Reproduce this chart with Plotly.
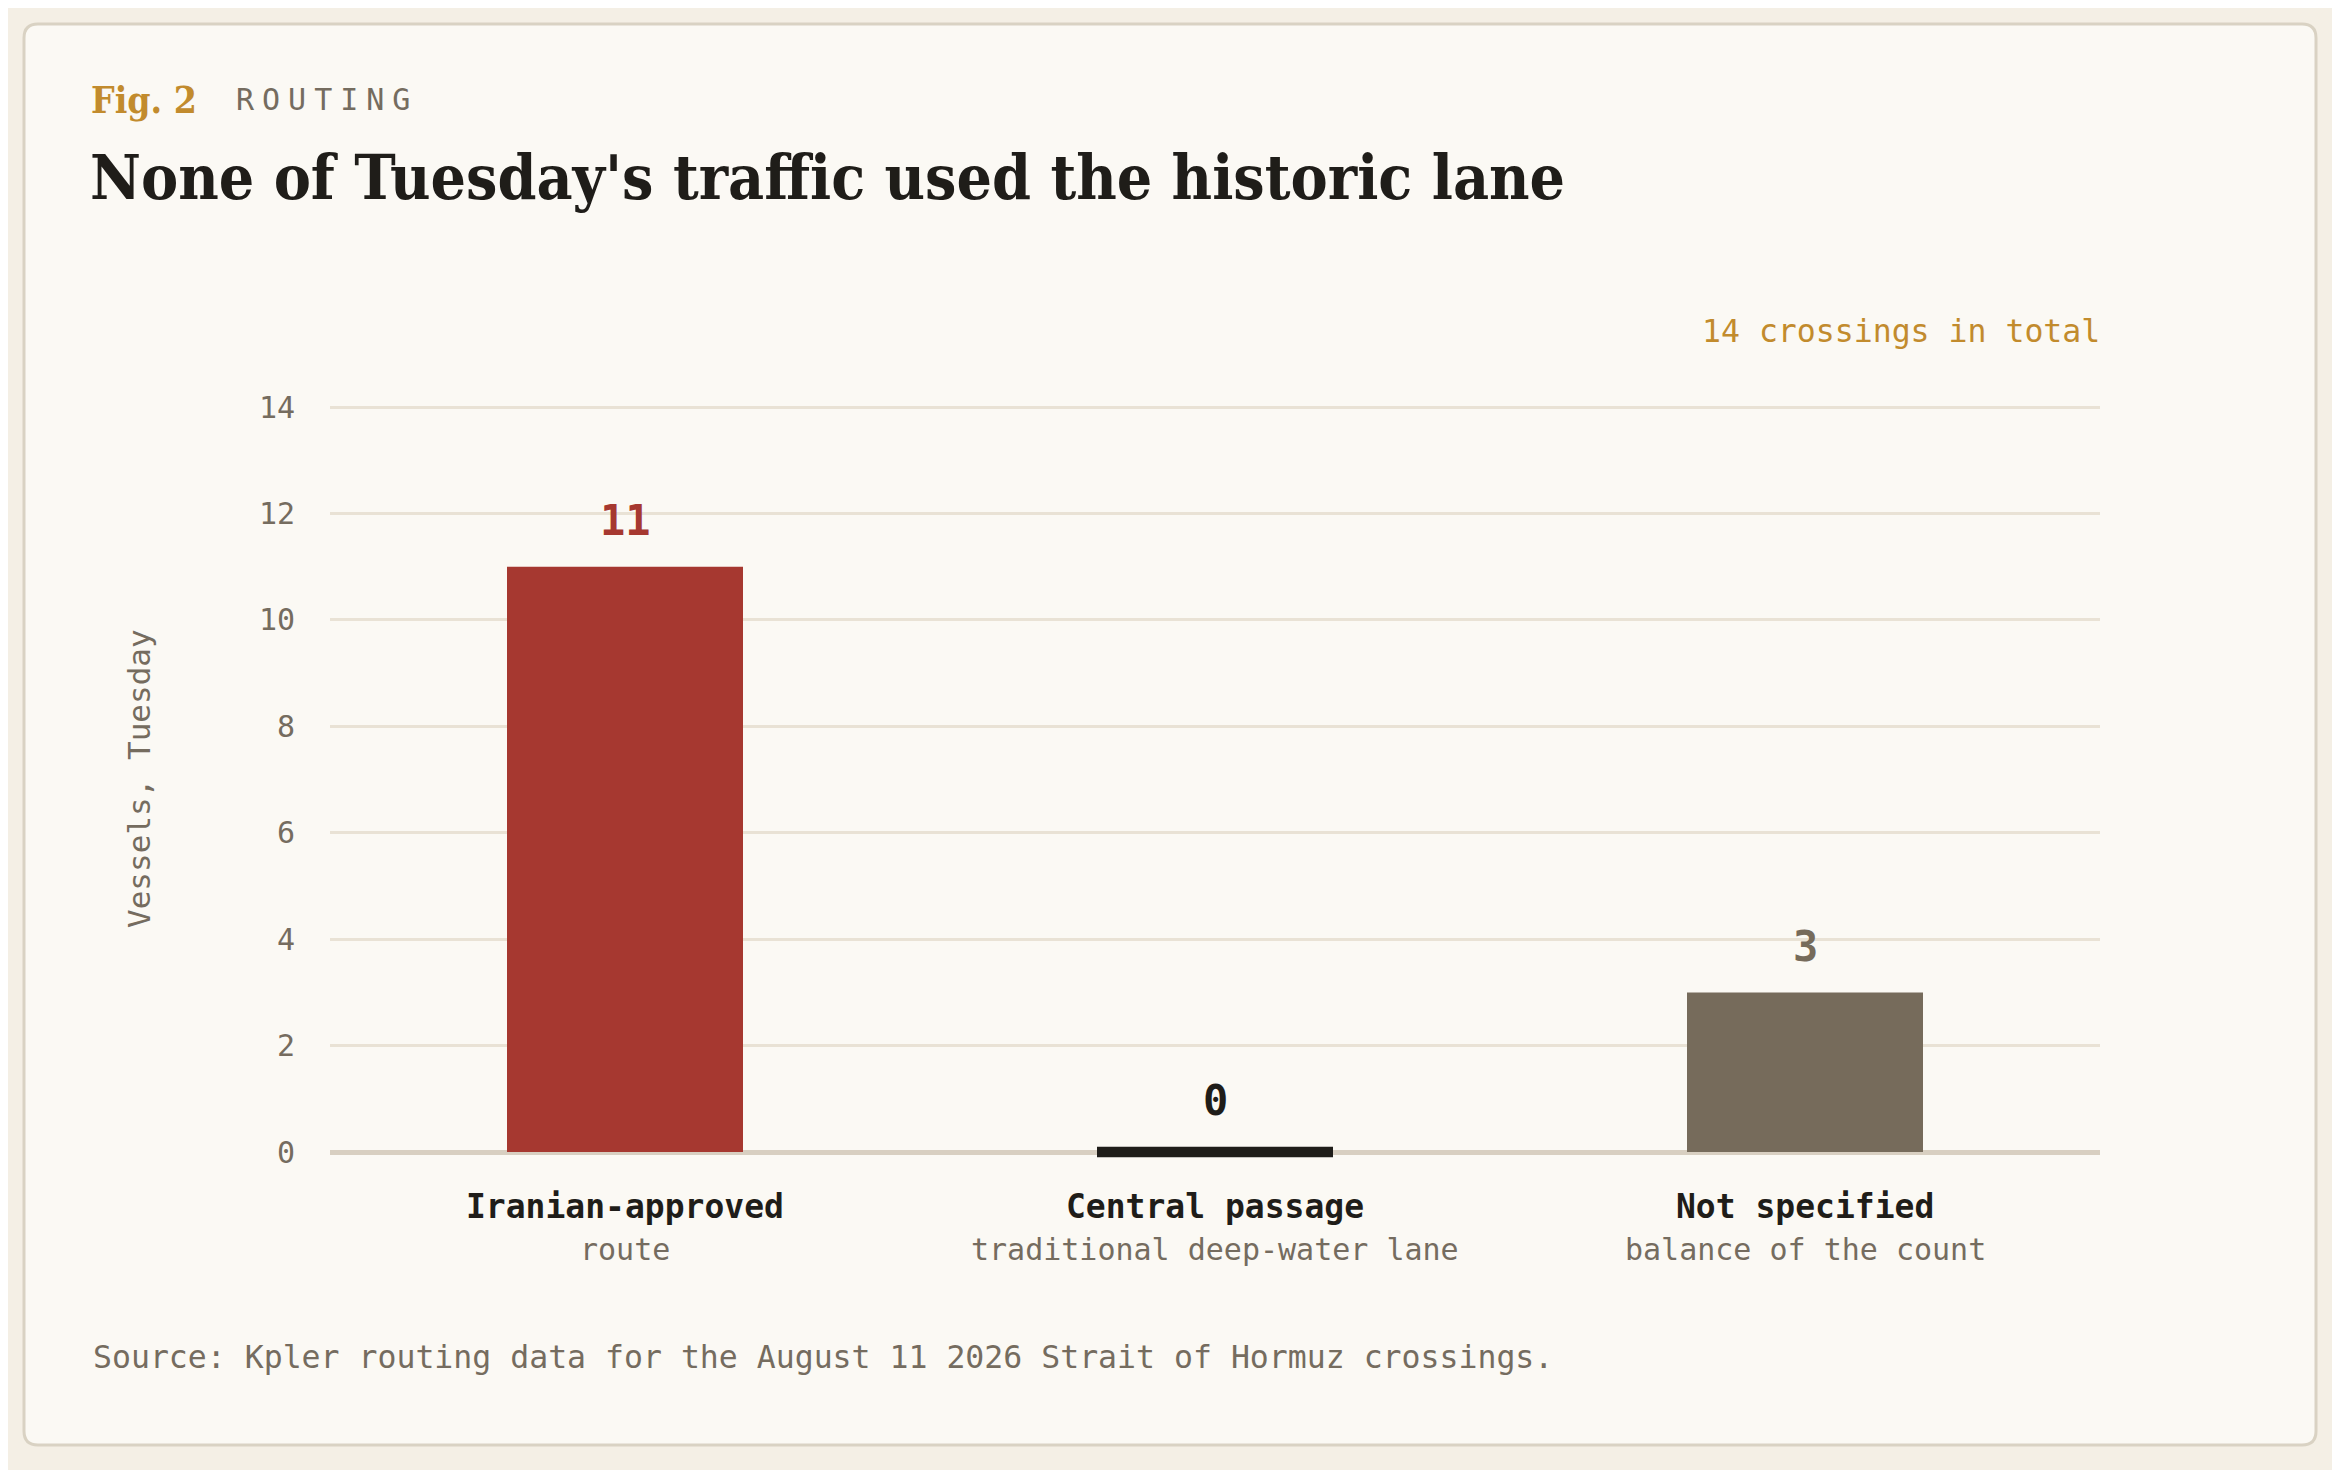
## plot.py
# Bar chart of Tuesday's Strait of Hormuz crossings by routing

import plotly.graph_objects as go

## Data
categories = ["Iranian-approved", "Central passage", "Not specified"]
subtitles = ["route", "traditional deep-water lane", "balance of the count"]
vessels = [11, 0, 3]
bar_colors = ["#a63830", "#1f1d19", "#766b5b"]
y_ticks = [0, 2, 4, 6, 8, 10, 12, 14]

## Page geometry (px); the page body adds an 8px offset
W, H = 2340, 1470
OFF = 8
L, R, T, B = 322, 248, 397, 318
PW = W - L - R
PH = H - T - B

MONO = "DejaVu Sans Mono"
SERIF = "DejaVu Serif Condensed, DejaVu Serif"
GOLD = "#c28b2d"
GREY = "#756c5f"
INK = "#1f1d19"


def px(x):
    # page x pixel -> paper coordinate
    return (x - OFF - L) / PW


def py(y):
    # page y pixel -> paper coordinate
    return (H - B - (y - OFF)) / PH


# zero-valued bars get a thin stub so they still show
bar_y = [v if v > 0 else 0.2 for v in vessels]
bar_base = [0 if v > 0 else -0.1 for v in vessels]

fig = go.Figure(go.Bar(
    x=categories, y=bar_y, base=bar_base,
    marker=dict(color=bar_colors, line=dict(width=0)),
    width=0.4, hoverinfo="skip", showlegend=False))

# card behind the chart
x0, x1, y0, y1, r = 24, 2316, 24, 1445, 14
card = ("M {a},{b} L {c},{b} Q {d},{b} {d},{e} L {d},{f} Q {d},{g} {c},{g} "
        "L {a},{g} Q {h},{g} {h},{f} L {h},{e} Q {h},{b} {a},{b} Z").format(
    a=px(x0 + r), b=py(y0), c=px(x1 - r), d=px(x1), e=py(y0 + r),
    f=py(y1 - r), g=py(y1), h=px(x0))
fig.add_shape(type="path", path=card, xref="paper", yref="paper",
              fillcolor="#fbf9f4", line=dict(color="#d9d2c3", width=3),
              layer="below")

ann = []
ann.append(dict(text="<b>Fig. 2</b>", x=px(89), y=py(100), xanchor="left",
                yanchor="middle", font=dict(family=SERIF, size=37, color=GOLD)))
ann.append(dict(text="<span style='letter-spacing:8px'>ROUTING</span>",
                x=px(234), y=py(100), xanchor="left", yanchor="middle",
                font=dict(family=MONO, size=30, color=GREY)))
ann.append(dict(text="<b>None of Tuesday's traffic used the historic lane</b>",
                x=px(88), y=py(177), xanchor="left", yanchor="middle",
                font=dict(family=SERIF, size=62, color=INK)))
ann.append(dict(text="14 crossings in total", x=px(2102), y=py(331),
                xanchor="right", yanchor="middle",
                font=dict(family=MONO, size=31.5, color=GOLD)))
ann.append(dict(text="Vessels, Tuesday", x=px(139), y=py(779), textangle=-90,
                xanchor="center", yanchor="middle",
                font=dict(family=MONO, size=31, color=GREY)))
ann.append(dict(text="Source: Kpler routing data for the August 11 2026 "
                "Strait of Hormuz crossings.", x=px(91), y=py(1357),
                xanchor="left", yanchor="middle",
                font=dict(family=MONO, size=31.5, color=GREY)))

for i, cat in enumerate(categories):
    top = bar_base[i] + bar_y[i]
    ann.append(dict(text="<b>{}</b>".format(vessels[i]), x=cat, y=top,
                    xref="x", yref="y", yanchor="middle", yshift=46,
                    font=dict(family=MONO, size=42, color=bar_colors[i])))
    ann.append(dict(text="<b>{}</b>".format(cat), x=cat, y=py(1206),
                    xref="x", yanchor="middle",
                    font=dict(family=MONO, size=33, color=INK)))
    ann.append(dict(text=subtitles[i], x=cat, y=py(1249), xref="x",
                    yanchor="middle",
                    font=dict(family=MONO, size=30, color=GREY)))

for a in ann:
    a.setdefault("xref", "paper")
    a.setdefault("yref", "paper")
    a["showarrow"] = False

fig.update_layout(
    width=W, height=H,
    margin=dict(l=L, r=R, t=T, b=B),
    paper_bgcolor="#f4efe5",
    plot_bgcolor="rgba(0,0,0,0)",
    annotations=ann,
    bargap=0.6,
    xaxis=dict(showticklabels=False, showgrid=False, zeroline=False,
               showline=False, ticks="", fixedrange=True),
    yaxis=dict(range=[-0.15, 14.04], tickvals=y_ticks, showgrid=True,
               gridcolor="#e9e2d5", gridwidth=3, zeroline=True,
               zerolinecolor="#d8cfc1", zerolinewidth=5, showline=False,
               ticks="", ticklabelstandoff=34,
               tickfont=dict(family=MONO, size=30, color=GREY),
               fixedrange=True),
)

fig.write_html("out.html")
